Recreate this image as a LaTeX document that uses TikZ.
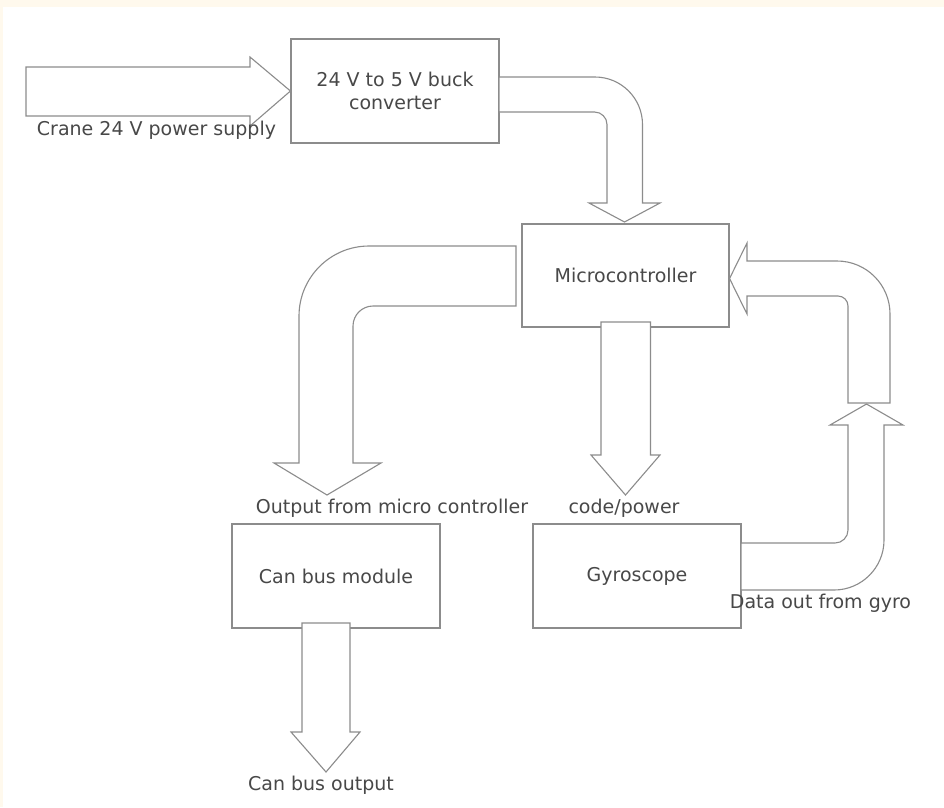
\documentclass[tikz,border=0pt]{standalone}
\usepackage{fontspec}
\setmainfont{DejaVu Sans}
\definecolor{cream}{RGB}{255,249,237}
\definecolor{linec}{RGB}{140,140,140}
\definecolor{textc}{RGB}{72,72,72}
\begin{document}
\begin{tikzpicture}[x=1pt,y=-1pt,
  box/.style={draw=linec,line width=1.1pt,fill=white,minimum width=208pt,minimum height=104pt,inner sep=0pt,text=textc,align=center,font=\fontsize{19}{23}\selectfont},
  blk/.style={draw=linec,line width=1.1pt,fill=white,line join=miter},
  lbl/.style={text=textc,font=\fontsize{19}{23}\selectfont,inner sep=0pt,anchor=base}]
\useasboundingbox (0,0) rectangle (944,807);
\fill[cream] (0,0) rectangle (944,807);
\fill[white] (3,7) rectangle (944,807);

% boxes
\node[box] (buck) at (395,91) {24 V to 5 V buck\\converter};
\node[box,minimum width=207pt,minimum height=103pt] (micro) at (625.5,275.5) {Microcontroller};
\node[box] (can) at (336,576) {Can bus module};
\node[box] (gyro) at (637,576) {Gyroscope};

% input arrow
\draw[blk] (26,67) -- (250,67) -- (250,57) -- (buck.west) -- (250,126) -- (250,116) -- (26,116) -- cycle;
\node[lbl] (crane) at (156.5,135) {Crane 24 V power supply};

% buck -> micro
\draw[blk] (499,77) -- (595,77) .. controls (621.2,77) and (642.5,98.3) .. (642.5,124.5)
  -- (642.5,203) -- (660,203) -- (624.5,222) -- (589,203) -- (607,203) -- (607,124.5)
  .. controls (607,117.6) and (601.4,112) .. (594.5,112) -- (499,112) -- cycle;

% micro -> can bus
\draw[blk] (516,246) -- (369,246) .. controls (330.4,246) and (299,277.4) .. (299,316)
  -- (299,463) -- (274,463) -- (327,495) -- (381,463) -- (353,463) -- (353,326)
  .. controls (353,315) and (362,306) .. (373,306) -- (516,306) -- cycle;
\node[lbl] (outlbl) at (392,513) {Output from micro controller};

% micro -> gyro
\draw[blk] (601,322) -- (650.5,322) -- (650.5,455) -- (660,455) -- (625.5,495) -- (591,455) -- (601,455) -- cycle;
\node[lbl] (codelbl) at (624,513) {code/power};

% can bus output
\draw[blk] (302,623) -- (350,623) -- (350,732) -- (360,732) -- (326,772) -- (291,732) -- (302,732) -- cycle;
\node[lbl] (canout) at (321,790.5) {Can bus output};

% gyro -> up
\draw[blk] (741,543) -- (835,543) .. controls (842.2,543) and (848,537.2) .. (848,530)
  -- (848,425) -- (830,425) -- (866.5,404) -- (903,425) -- (884,425) -- (884,540)
  .. controls (884,567.6) and (861.6,590) .. (834,590) -- (741,590) -- cycle;
\node[lbl] (datalbl) at (820.5,608) {Data out from gyro};

% up -> micro
\draw[blk] (747,261) -- (837,261) .. controls (866.3,261) and (890,284.7) .. (890,314)
  -- (890,403) -- (848,403) -- (848,306) .. controls (848,300.5) and (843.5,296) .. (838,296)
  -- (747,296) -- (747,314) -- (micro.east |- 0,278.5) -- (747,243) -- cycle;
\end{tikzpicture}
\end{document}
